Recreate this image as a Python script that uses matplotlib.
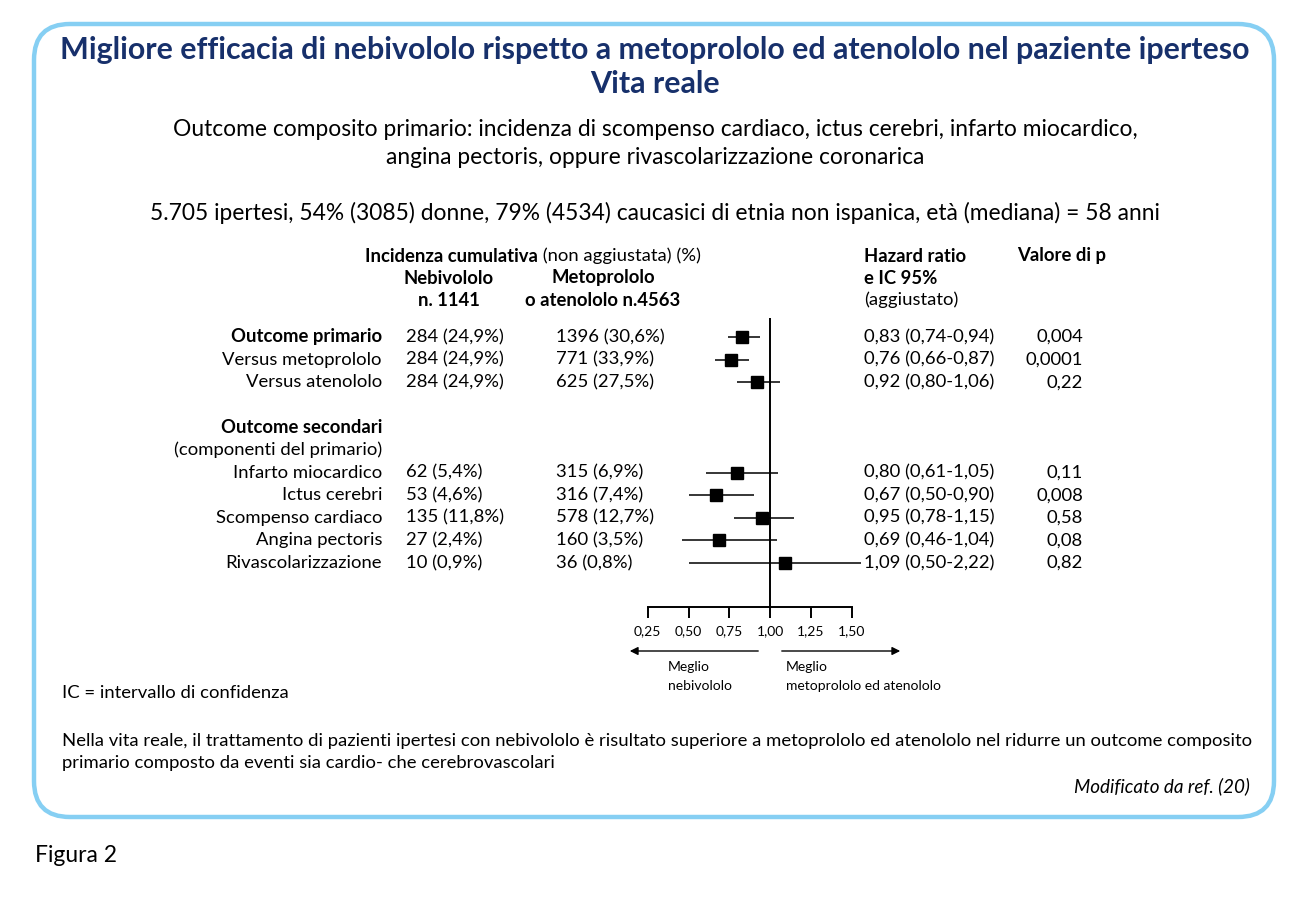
import matplotlib
matplotlib.use("Agg")
import matplotlib.pyplot as plt
from matplotlib.patches import FancyBboxPatch
import matplotlib.transforms as mtransforms

plt.rcParams['font.family'] = ['Lato', 'DejaVu Sans']

# ---------------- data ----------------
row_labels = ["Outcome primario", "Versus metoprololo", "Versus atenololo",
              "Infarto miocardico", "Ictus cerebri", "Scompenso cardiaco",
              "Angina pectoris", "Rivascolarizzazione"]
row_bold = [True, False, False, False, False, False, False, False]
row_pos = [0, 1, 2, 6, 7, 8, 9, 10]
nebivololo = ["284 (24,9%)", "284 (24,9%)", "284 (24,9%)", "62 (5,4%)",
              "53 (4,6%)", "135 (11,8%)", "27 (2,4%)", "10 (0,9%)"]
metoprololo = ["1396 (30,6%)", "771 (33,9%)", "625 (27,5%)", "315 (6,9%)",
               "316 (7,4%)", "578 (12,7%)", "160 (3,5%)", "36 (0,8%)"]
hr = [0.83, 0.76, 0.92, 0.80, 0.67, 0.95, 0.69, 1.09]
ci_low = [0.74, 0.66, 0.80, 0.61, 0.50, 0.78, 0.46, 0.50]
ci_high = [0.94, 0.87, 1.06, 1.05, 0.90, 1.15, 1.04, 2.22]
p_values = ["0,004", "0,0001", "0,22", "0,11", "0,008", "0,58", "0,08", "0,82"]
xticks = [0.25, 0.50, 0.75, 1.00, 1.25, 1.50]
xtick_labels = ["0,25", "0,50", "0,75", "1,00", "1,25", "1,50"]

NAVY = "#17306b"
BORDER = "#86cff3"

W, H = 1295, 898
fig = plt.figure(figsize=(W / 100, H / 100), dpi=100)
bg = fig.add_axes([0, 0, 1, 1])
bg.set_xlim(0, W)
bg.set_ylim(H, 0)
bg.axis("off")

# rounded frame
bg.add_patch(FancyBboxPatch((34, 24), 1240, 793,
                            boxstyle="round,pad=0,rounding_size=36",
                            fc="white", ec=BORDER, lw=3.2, zorder=0))

# titles
TS = 21.9
bg.text(655, 50, "Migliore efficacia di nebivololo rispetto a metoprololo ed atenololo nel paziente iperteso",
        ha="center", va="center", fontsize=TS, fontweight="bold", color=NAVY)
bg.text(655, 84, "Vita reale", ha="center", va="center", fontsize=TS,
        fontweight="bold", color=NAVY)
SS = 16.4
bg.text(655, 130, "Outcome composito primario: incidenza di scompenso cardiaco, ictus cerebri, infarto miocardico,",
        ha="center", va="center", fontsize=SS, color="black")
bg.text(655, 157, "angina pectoris, oppure rivascolarizzazione coronarica",
        ha="center", va="center", fontsize=SS, color="black")
bg.text(655, 213, "5.705 ipertesi, 54% (3085) donne, 79% (4534) caucasici di etnia non ispanica, età (mediana) = 58 anni",
        ha="center", va="center", fontsize=SS, color="black")

# forest axes: pixel span x 600..861, y 318..607
px_l, px_r, px_t, px_b = 600, 861, 318, 607
ax = fig.add_axes([px_l / W, 1 - px_b / H, (px_r - px_l) / W, (px_b - px_t) / H])
scale = 163.0
ax.set_xlim(1 + (px_l - 770) / scale, 1 + (px_r - 770) / scale)
ax.set_ylim(11.95, -0.84)
ax.patch.set_alpha(0)
for s in ["top", "right", "left"]:
    ax.spines[s].set_visible(False)
ax.spines["bottom"].set_bounds(xticks[0], xticks[-1])
ax.spines["bottom"].set_linewidth(1.4)
ax.set_yticks([])
ax.set_xticks(xticks)
ax.set_xticklabels(xtick_labels, fontsize=10)
ax.tick_params(axis="x", direction="out", length=8, width=1.4, pad=5)
ax.axvline(1.0, color="black", lw=1.4)
for y, m, lo, hi in zip(row_pos, hr, ci_low, ci_high):
    ax.plot([lo, hi], [y, y], color="black", lw=1.1, solid_capstyle="butt")
    ax.plot([m], [y], marker="s", ms=8.5, color="black", mec="black")

# table text (x in pixels, y in row units)
tr = mtransforms.blended_transform_factory(bg.transData, ax.transData)
FS = 13.3
for lab, b, y, n, mt, h, lo, hi, p in zip(row_labels, row_bold, row_pos, nebivololo,
                                          metoprololo, hr, ci_low, ci_high, p_values):
    bg.text(382, y, lab, transform=tr, ha="right", va="center", fontsize=FS,
            fontweight="bold" if b else "normal")
    bg.text(406, y, n, transform=tr, ha="left", va="center", fontsize=FS)
    bg.text(556, y, mt, transform=tr, ha="left", va="center", fontsize=FS)
    hrs = f"{h:.2f} ({lo:.2f}-{hi:.2f})".replace(".", ",")
    bg.text(864, y, hrs, transform=tr, ha="left", va="center", fontsize=FS)
    bg.text(1083, y, p, transform=tr, ha="right", va="center", fontsize=FS)
bg.text(382, 4, "Outcome secondari", transform=tr, ha="right", va="center",
        fontsize=FS, fontweight="bold")
bg.text(382, 5, "(componenti del primario)", transform=tr, ha="right",
        va="center", fontsize=FS)

# column headers
t1 = bg.text(365, 256, "Incidenza cumulativa", ha="left", va="center",
             fontsize=FS, fontweight="bold")
bg.annotate(" (non aggiustata) (%)", xy=(1, 0.5), xycoords=t1, ha="left",
            va="center", fontsize=FS)
bg.text(449, 278, "Nebivololo", ha="center", va="center", fontsize=FS, fontweight="bold")
bg.text(449, 300, "n. 1141", ha="center", va="center", fontsize=FS, fontweight="bold")
bg.text(603, 278, "Metoprololo", ha="center", va="center", fontsize=FS, fontweight="bold")
bg.text(603, 300, "o atenololo n.4563", ha="center", va="center", fontsize=FS, fontweight="bold")
bg.text(864, 256, "Hazard ratio", ha="left", va="center", fontsize=FS, fontweight="bold")
bg.text(864, 278, "e IC 95%", ha="left", va="center", fontsize=FS, fontweight="bold")
bg.text(864, 300, "(aggiustato)", ha="left", va="center", fontsize=FS)
bg.text(1017, 256, "Valore di p", ha="left", va="center", fontsize=FS, fontweight="bold")

# direction arrows
arrow_kw = dict(arrowstyle="-|>", color="black", lw=1.0, mutation_scale=12)
bg.annotate("", xy=(627, 651), xytext=(761, 651), arrowprops=arrow_kw)
bg.annotate("", xy=(903, 651), xytext=(779, 651), arrowprops=arrow_kw)
MS = 10
bg.text(668, 667, "Meglio", ha="left", va="center", fontsize=MS)
bg.text(668, 686, "nebivololo", ha="left", va="center", fontsize=MS)
bg.text(786, 667, "Meglio", ha="left", va="center", fontsize=MS)
bg.text(786, 686, "metoprololo ed atenololo", ha="left", va="center", fontsize=MS)

# notes
bg.text(62, 693, "IC = intervallo di confidenza", ha="left", va="center", fontsize=FS)
bg.text(62, 741, "Nella vita reale, il trattamento di pazienti ipertesi con nebivololo è risultato superiore a metoprololo ed atenololo nel ridurre un outcome composito",
        ha="left", va="center", fontsize=FS)
bg.text(62, 763, "primario composto da eventi sia cardio- che cerebrovascolari",
        ha="left", va="center", fontsize=FS)
bg.text(1250, 786, "Modificato da ref. (20)", ha="right", va="center",
        fontsize=13.6, style="italic")
bg.text(35, 855, "Figura 2", ha="left", va="center", fontsize=16.5)

fig.savefig("out.png", dpi=100)
